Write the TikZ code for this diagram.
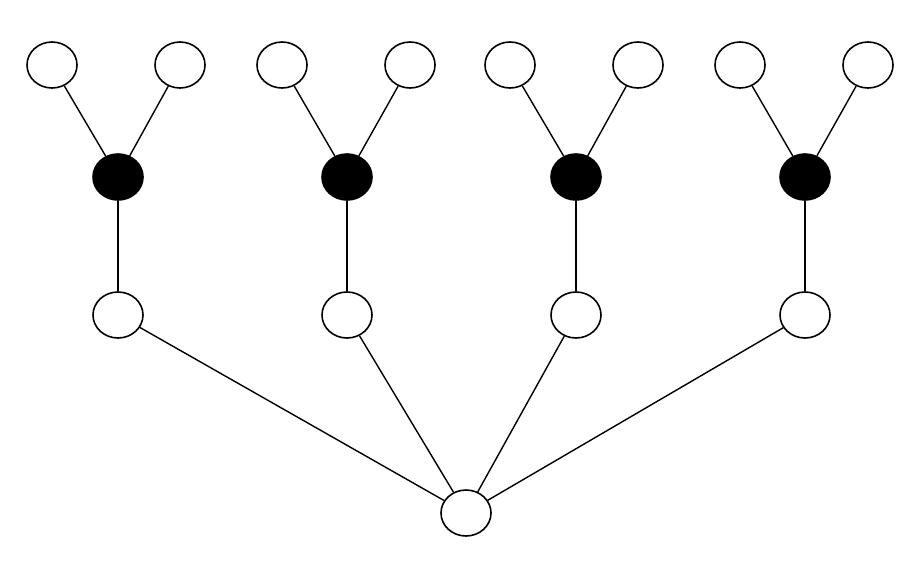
\documentclass[tikz,border=0pt]{standalone}
\usetikzlibrary{shapes.geometric}
\begin{document}
\begin{tikzpicture}[x=1pt,y=-1pt,
  wn/.style={ellipse,draw,line width=1.6pt,fill=white,minimum width=50pt,minimum height=46pt,inner sep=0pt},
  bn/.style={wn,fill=black},
  ln/.style={line width=1.4pt}]
\useasboundingbox (0,0) rectangle (905,560);
\foreach \i/\x/\a/\b in {1/118/52/180, 2/347/282/410, 3/576/510/638, 4/805/740/868}{
  \node[wn] (l\i) at (\a,65) {};
  \node[wn] (r\i) at (\b,65) {};
  \node[bn] (b\i) at (\x,177) {};
  \node[wn] (m\i) at (\x,315) {};
}
\node[wn] (root) at (466,513) {};
\foreach \i in {1,...,4}{
  \draw[ln] (l\i) -- (b\i);
  \draw[ln] (r\i) -- (b\i);
  \draw[ln] (b\i) -- (m\i);
  \draw[ln] (m\i) -- (root);
}
\end{tikzpicture}
\end{document}
